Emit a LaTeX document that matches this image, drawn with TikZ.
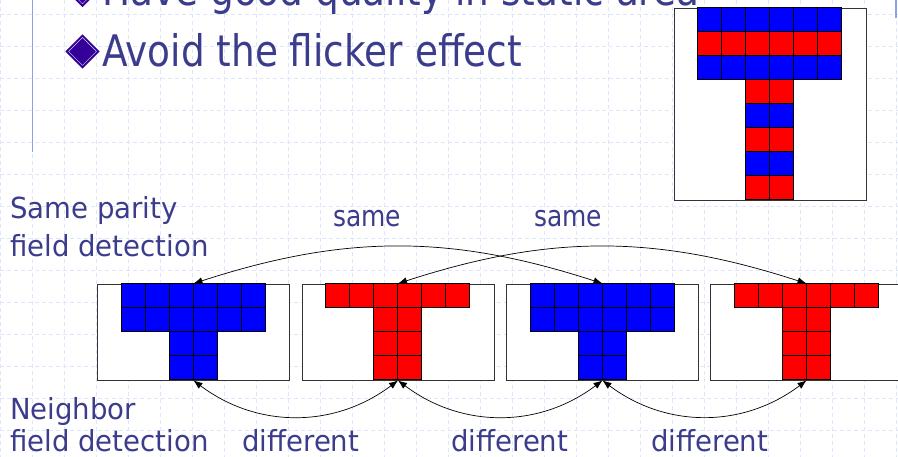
\documentclass[tikz,border=0pt]{standalone}
\usepackage{fontspec}
\setmainfont{DejaVu Sans}[FakeStretch=0.95]
\newfontfamily\hurufbesar{DejaVu Sans}[FakeStretch=0.86]
\usepackage{xcolor}
\usetikzlibrary{arrows.meta, positioning, shapes.geometric}
\definecolor{teksbiru}{RGB}{60,60,140}
\definecolor{ungu}{RGB}{51,0,153}
\definecolor{garisbantu}{RGB}{222,230,252}
\definecolor{garistepi}{RGB}{140,160,240}
\tikzset{
  bidang/.style={rectangle, draw=black!80, fill=white, line width=0.9pt,
    minimum width=192pt, minimum height=96pt, inner sep=0pt},
  piksel/.style={draw=black, line width=1.1pt},
  panah/.style={{Latex[length=9pt,width=7pt]}-{Latex[length=9pt,width=7pt]},
    line width=0.7pt, black},
  teks/.style={anchor=base west, inner sep=0pt, text=teksbiru,
    font=\fontsize{29}{34}\selectfont},
  judul/.style={anchor=base west, inner sep=0pt, text=teksbiru,
    font=\hurufbesar\fontsize{43.5}{50}\selectfont},
  berlian/.style={diamond, fill=ungu, draw=ungu, line width=1.2pt,
    minimum size=33pt, inner sep=0pt},
  berliandalam/.style={diamond, draw=ungu!20, line width=0.5pt,
    minimum size=28pt, inner sep=0pt},
  gridhalus/.style={draw=garisbantu, dash pattern=on 4pt off 3pt, line width=0.6pt}
}

\begin{document}
\begin{tikzpicture}[x=1pt, y=1pt]
  \useasboundingbox (0,0) rectangle (898,-457);
  \clip (0,0) rectangle (898,-457);
  \fill[white] (0,0) rectangle (898,-457);

  % latar bergaris
  \foreach \x in {0,32,...,896}
    \draw[gridhalus] (\x,0) -- (\x,-457);
  \foreach \y in {14,46,...,446}
    \draw[gridhalus] (0,-\y) -- (898,-\y);
  \draw[garistepi, line width=1.2pt] (32.3,0) -- (32.3,-152);
  \draw[garistepi, line width=1.2pt] (896,0) -- (896,-18);

  % poin-poin
  \node[berlian] (b1) at (82.5,10) {};
  \node[berliandalam] (b1d) at (b1) {};
  \node[judul] (j1) at (102,-5.5) {Have good quality in static area};
  \node[berlian] (b2) at (82.5,-51.5) {};
  \node[berliandalam] (b2d) at (b2) {};
  \node[judul] (j2) at (102,-67) {Avoid the flicker effect};

  % gabungan dua bidang
  \node[bidang, minimum height=192pt] (tgab) at (770,-104) {};
  \begin{scope}[shift={(tgab.north west)}]
    \foreach \r/\w in {0/blue, 1/red, 2/blue}
      \foreach \c in {1,...,6}
        \draw[piksel, fill=\w] (24*\c,-24*\r) rectangle ++(24,-24);
    \foreach \r/\w in {3/red, 4/blue, 5/red, 6/blue, 7/red}
      \foreach \c in {3,4}
        \draw[piksel, fill=\w] (24*\c,-24*\r) rectangle ++(24,-24);
  \end{scope}

  % empat bidang
  \node[bidang] (f1) at (193.5,-332) {};
  \node[bidang] (f2) at (398,-332) {};
  \node[bidang] (f3) at (602.5,-332) {};
  \node[bidang] (f4) at (806.5,-332) {};
  \foreach \f in {f1, f3} {
    \begin{scope}[shift={(\f.north west)}]
      \foreach \r in {0,1}
        \foreach \c in {1,...,6}
          \draw[piksel, fill=blue] (24*\c,-24*\r) rectangle ++(24,-24);
      \foreach \r in {2,3}
        \foreach \c in {3,4}
          \draw[piksel, fill=blue] (24*\c,-24*\r) rectangle ++(24,-24);
    \end{scope}
  }
  \foreach \f in {f2, f4} {
    \begin{scope}[shift={(\f.north west)}]
      \foreach \c in {1,...,6}
        \draw[piksel, fill=red] (24*\c,0) rectangle ++(24,-24);
      \foreach \r in {1,2,3}
        \foreach \c in {3,4}
          \draw[piksel, fill=red] (24*\c,-24*\r) rectangle ++(24,-24);
    \end{scope}
  }

  % panah
  \draw[panah] (f1.north) to[bend left=18] (f3.north);
  \draw[panah] (f2.north) to[bend left=18] (f4.north);
  \draw[panah] (f1.south) to[bend right=37] (f2.south);
  \draw[panah] (f2.south) to[bend right=37] (f3.south);
  \draw[panah] (f3.south) to[bend right=37] (f4.south);

  % keterangan
  \node[teks] (k1) at (10,-219) {Same parity};
  \node[teks] (k2) at (10,-257) {field detection};
  \node[teks, anchor=base, font=\hurufbesar\fontsize{29}{34}\selectfont] (s1) at (367,-227) {same};
  \node[teks, anchor=base, font=\hurufbesar\fontsize{29}{34}\selectfont] (s2) at (568,-227) {same};
  \node[teks] (k3) at (10,-419) {Neighbor};
  \node[teks] (k4) at (10,-451) {field detection};
  \node[teks] (d1) at (242,-451) {different};
  \node[teks] (d2) at (451,-451) {different};
  \node[teks] (d3) at (651,-451) {different};
\end{tikzpicture}
\end{document}
